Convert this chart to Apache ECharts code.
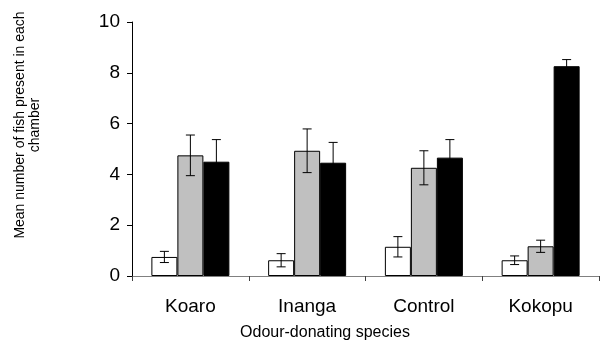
<!DOCTYPE html>
<html>
<head>
<meta charset="utf-8">
<script src="https://cdn.jsdelivr.net/npm/echarts@6/dist/echarts.min.js"></script>
<style>
  html, body { margin: 0; padding: 0; background: #fff; }
  #chart { width: 600px; height: 342px; }
</style>
</head>
<body>
<div id="chart"></div>
<script>
// Odour-donating species on the x axis
const categories = ['Koaro', 'Inanga', 'Control', 'Kokopu'];

// Mean number of fish per chamber (three chambers per trial)
const meanWhite = [0.75, 0.62, 1.15, 0.62];
const meanGrey  = [4.75, 4.93, 4.26, 1.17];
const meanBlack = [4.50, 4.46, 4.66, 8.26];

// Standard errors
const errWhite = [0.22, 0.26, 0.40, 0.17];
const errGrey  = [0.80, 0.86, 0.67, 0.24];
const errBlack = [0.87, 0.80, 0.71, 0.26];

const yTicks = [0, 2, 4, 6, 8, 10];

const BAR_W = 26;
const FONT = 'Arial, "Liberation Sans", sans-serif';

const groups = [
  { name: 'white', color: '#ffffff', mean: meanWhite, err: errWhite },
  { name: 'grey',  color: '#c0c0c0', mean: meanGrey,  err: errGrey },
  { name: 'black', color: '#000000', mean: meanBlack, err: errBlack }
];

const barSeries = groups.map(g => ({
  name: g.name,
  type: 'bar',
  data: g.mean,
  barWidth: BAR_W,
  barGap: '0%',
  itemStyle: { color: g.color, borderColor: '#000', borderWidth: 1 },
  silent: true
}));

const errorSeries = groups.map((g, gi) => ({
  name: g.name + ' err',
  type: 'custom',
  data: g.mean.map((m, i) => [i, m - g.err[i], m + g.err[i]]),
  z: 10,
  silent: true,
  renderItem: function (params, api) {
    const ci = api.value(0);
    const lo = api.coord([ci, api.value(1)]);
    const hi = api.coord([ci, api.value(2)]);
    const x = lo[0] + (gi - 1) * BAR_W;
    const cap = 4.5;
    const style = { stroke: '#000', lineWidth: 1 };
    return {
      type: 'group',
      children: [
        { type: 'line', shape: { x1: x, y1: lo[1], x2: x, y2: hi[1] }, style },
        { type: 'line', shape: { x1: x - cap, y1: lo[1], x2: x + cap, y2: lo[1] }, style },
        { type: 'line', shape: { x1: x - cap, y1: hi[1], x2: x + cap, y2: hi[1] }, style }
      ]
    };
  }
}));

const chart = echarts.init(document.getElementById('chart'), null, { renderer: 'canvas' });
chart.setOption({
  animation: false,
  backgroundColor: '#fff',
  grid: { left: 132, right: 1, top: 22, bottom: 66, containLabel: false },
  xAxis: {
    type: 'category',
    data: categories,
    axisLine: { lineStyle: { color: '#808080', width: 1 } },
    axisTick: { show: true, length: 5, inside: false, lineStyle: { color: '#404040' } },
    axisLabel: { color: '#000', fontSize: 19, fontFamily: FONT, margin: 21 }
  },
  yAxis: {
    type: 'value',
    min: yTicks[0],
    max: yTicks[yTicks.length - 1],
    interval: 2,
    splitLine: { show: false },
    axisLine: { show: true, lineStyle: { color: '#000', width: 1 } },
    axisTick: { show: true, length: 5, lineStyle: { color: '#000' } },
    axisLabel: { color: '#000', fontSize: 19, fontFamily: FONT, margin: 12 }
  },
  series: barSeries.concat(errorSeries),
  graphic: [
    {
      type: 'text',
      x: 28, y: 125,
      rotation: Math.PI / 2,
      style: {
        text: 'Mean number of fish present in each\nchamber',
        font: '14px ' + FONT,
        fill: '#000',
        textAlign: 'center',
        textVerticalAlign: 'middle',
        lineHeight: 15
      }
    },
    {
      type: 'text',
      x: 325, y: 333,
      style: {
        text: 'Odour-donating species',
        font: '16px ' + FONT,
        fill: '#000',
        textAlign: 'center',
        textVerticalAlign: 'middle'
      }
    }
  ]
});
</script>
</body>
</html>
